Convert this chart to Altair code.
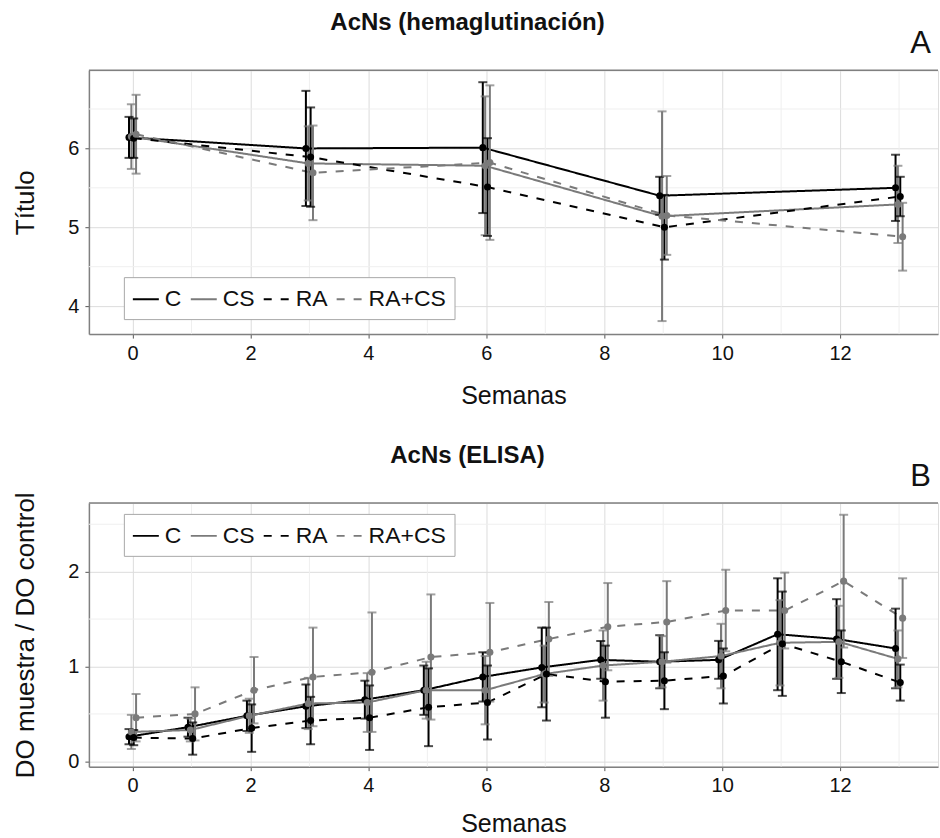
import altair as alt
import pandas as pd

# ---------------- data ----------------
series = ["C", "CS", "RA", "RA+CS"]

weeks_a = [0, 3, 6, 9, 13]
mean_a_C = [6.14, 6.00, 6.01, 5.40, 5.50]
mean_a_CS = [6.15, 5.81, 5.78, 5.14, 5.29]
mean_a_RA = [6.13, 5.89, 5.51, 5.00, 5.39]
mean_a_RACS = [6.18, 5.69, 5.82, 5.15, 4.88]
sd_a_C = [0.26, 0.73, 0.83, 0.24, 0.42]
sd_a_CS = [0.41, 0.47, 0.88, 1.33, 0.49]
sd_a_RA = [0.25, 0.63, 0.62, 0.41, 0.25]
sd_a_RACS = [0.50, 0.60, 0.98, 0.50, 0.43]

weeks_b = [0, 1, 2, 3, 4, 5, 6, 7, 8, 9, 10, 11, 12, 13]
mean_b_C = [0.26, 0.36, 0.48, 0.58, 0.65, 0.75, 0.89, 0.99, 1.07, 1.05, 1.07, 1.34, 1.29, 1.19]
mean_b_CS = [0.31, 0.33, 0.48, 0.61, 0.62, 0.75, 0.75, 0.92, 1.01, 1.05, 1.11, 1.25, 1.26, 1.08]
mean_b_RA = [0.25, 0.24, 0.35, 0.43, 0.46, 0.57, 0.62, 0.92, 0.84, 0.85, 0.90, 1.24, 1.05, 0.83]
mean_b_RACS = [0.46, 0.50, 0.75, 0.89, 0.94, 1.10, 1.15, 1.29, 1.42, 1.47, 1.59, 1.59, 1.90, 1.51]
sd_b_C = [0.08, 0.10, 0.16, 0.23, 0.20, 0.26, 0.26, 0.42, 0.20, 0.28, 0.20, 0.59, 0.42, 0.42]
sd_b_CS = [0.18, 0.12, 0.18, 0.27, 0.31, 0.30, 0.36, 0.30, 0.37, 0.27, 0.34, 0.45, 0.38, 0.30]
sd_b_RA = [0.08, 0.17, 0.25, 0.25, 0.34, 0.41, 0.39, 0.49, 0.38, 0.30, 0.29, 0.55, 0.33, 0.19]
sd_b_RACS = [0.25, 0.28, 0.35, 0.52, 0.63, 0.66, 0.52, 0.39, 0.46, 0.43, 0.43, 0.40, 0.70, 0.42]

x_major = [0, 2, 4, 6, 8, 10, 12]
x_minor = [1, 3, 5, 7, 9, 11, 13]
y_major_a = [4, 5, 6]
y_minor_a = [4.5, 5.5, 6.5]
y_major_b = [0, 1, 2]
y_minor_b = [0.5, 1.5, 2.5]

# ---------------- styles ----------------
FONT = "Liberation Sans"
BORDER = "#808080"
colors = ["#000000", "#7a7a7a", "#000000", "#7a7a7a"]
dashes = [[1, 0], [1, 0], [8, 9], [8, 9]]
dodge = {"C": -0.06, "CS": -0.02, "RA": 0.02, "RA+CS": 0.06}
W, H = 850, 264
XDOM = [-0.74, 13.66]


def build(weeks, means, sds):
    rows = []
    for s, m_list, sd_list in zip(series, means, sds):
        for w, m, sd in zip(weeks, m_list, sd_list):
            rows.append({"serie": s, "week": w, "xd": w + dodge[s],
                         "mean": m, "lo": m - sd, "hi": m + sd})
    return pd.DataFrame(rows)


df_a = build(weeks_a, [mean_a_C, mean_a_CS, mean_a_RA, mean_a_RACS],
             [sd_a_C, sd_a_CS, sd_a_RA, sd_a_RACS])
df_b = build(weeks_b, [mean_b_C, mean_b_CS, mean_b_RA, mean_b_RACS],
             [sd_b_C, sd_b_CS, sd_b_RA, sd_b_RACS])


def panel(df, ydom, y_major, y_minor, ytitle, title, letter, legend_y, xtitle_pad):
    xscale = alt.Scale(domain=XDOM, nice=False, zero=False)
    yscale = alt.Scale(domain=ydom, nice=False, zero=False)
    xaxis = alt.Axis(values=x_major, format="d", title="Semanas", grid=True,
                     gridColor="#dcdcdc", gridWidth=1, domain=True,
                     domainColor=BORDER, domainWidth=1.5,
                     tickSize=4, tickColor="#555", labelFontSize=20,
                     titleFontSize=25, labelFont=FONT, titleFont=FONT,
                     labelColor="#111", titleColor="#111", titleFontWeight="normal",
                     labelPadding=5, titlePadding=xtitle_pad)
    yaxis = alt.Axis(values=y_major, format="d", title=ytitle, grid=True,
                     gridColor="#dcdcdc", gridWidth=1, domain=True,
                     domainColor=BORDER, domainWidth=1.5,
                     tickSize=4, tickColor="#555", labelFontSize=20,
                     titleFontSize=26, labelFont=FONT, titleFont=FONT,
                     labelColor="#111", titleColor="#111", titleFontWeight="normal",
                     labelPadding=6, titlePadding=29)
    cscale = alt.Scale(domain=series, range=colors)
    dscale = alt.Scale(domain=series, range=dashes)
    leg = alt.Legend(orient="none", legendX=35, legendY=legend_y,
                     direction="horizontal", title=None, symbolType="stroke",
                     symbolSize=676, symbolStrokeWidth=2, labelFontSize=23,
                     labelFont=FONT, labelColor="#111", labelOffset=5,
                     columnPadding=5, padding=8, strokeColor="#a8a8a8",
                     fillColor="white", labelLimit=0, symbolOffset=0)

    minor_x = alt.Chart(pd.DataFrame({"v": x_minor})).mark_rule(
        color="#efefef", strokeWidth=1).encode(x=alt.X("v:Q", scale=xscale, axis=xaxis))
    minor_y = alt.Chart(pd.DataFrame({"v": y_minor})).mark_rule(
        color="#efefef", strokeWidth=1).encode(y=alt.Y("v:Q", scale=yscale, axis=yaxis))
    top_border = alt.Chart(pd.DataFrame({"b": [0]})).mark_rule(
        color=BORDER, strokeWidth=1.5).encode(
        x=alt.value(0), x2=alt.value(W), y=alt.value(0))

    base = alt.Chart(df)
    X = alt.X("xd:Q", scale=xscale, axis=xaxis)
    lines = base.mark_line(strokeWidth=2).encode(
        x=X, y=alt.Y("mean:Q", scale=yscale, axis=yaxis),
        color=alt.Color("serie:N", scale=cscale, legend=leg, sort=series),
        strokeDash=alt.StrokeDash("serie:N", scale=dscale, legend=leg, sort=series),
        detail="serie:N")
    bars = base.mark_rule(strokeWidth=2).encode(
        x=X, y=alt.Y("lo:Q", scale=yscale, axis=yaxis), y2="hi:Q",
        color=alt.Color("serie:N", scale=cscale, legend=None))
    caps_hi = base.mark_tick(orient="horizontal", size=9, thickness=2).encode(
        x=X, y=alt.Y("hi:Q", scale=yscale, axis=yaxis),
        color=alt.Color("serie:N", scale=cscale, legend=None))
    caps_lo = base.mark_tick(orient="horizontal", size=9, thickness=2).encode(
        x=X, y=alt.Y("lo:Q", scale=yscale, axis=yaxis),
        color=alt.Color("serie:N", scale=cscale, legend=None))
    pts = base.mark_point(filled=True, size=50, opacity=1).encode(
        x=X, y=alt.Y("mean:Q", scale=yscale, axis=yaxis),
        color=alt.Color("serie:N", scale=cscale, legend=None))
    lab = alt.Chart(pd.DataFrame({"t": [letter]})).mark_text(
        align="right", baseline="middle", fontSize=31, font=FONT,
        color="#111").encode(text="t:N", x=alt.value(843), y=alt.value(-26))

    return alt.layer(minor_x, minor_y, top_border, lines, bars, caps_hi, caps_lo,
                     pts, lab).properties(
        width=W, height=H,
        title=alt.TitleParams(title, fontSize=24, fontWeight="bold", font=FONT,
                              color="#111", anchor="middle", dx=-46, offset=-7))


pa = panel(df_a, [3.645, 6.99], y_major_a, y_minor_a, "Título",
           "AcNs (hemaglutinación)", "A", 207, 20)
pb = panel(df_b, [-0.056, 2.725], y_major_b, y_minor_b, "DO muestra / DO control",
           "AcNs (ELISA)", "B", 11, 16)

chart = alt.vconcat(pa, pb, spacing=34).resolve_scale(
    color="independent", strokeDash="independent"
).resolve_legend(
    color="independent", strokeDash="independent"
).properties(
    padding={"left": 12, "top": 10, "right": 0, "bottom": 0}
).configure_view(stroke=None).configure(background="white")

chart.save("out.html", embed_options={"renderer": "svg", "actions": False})
